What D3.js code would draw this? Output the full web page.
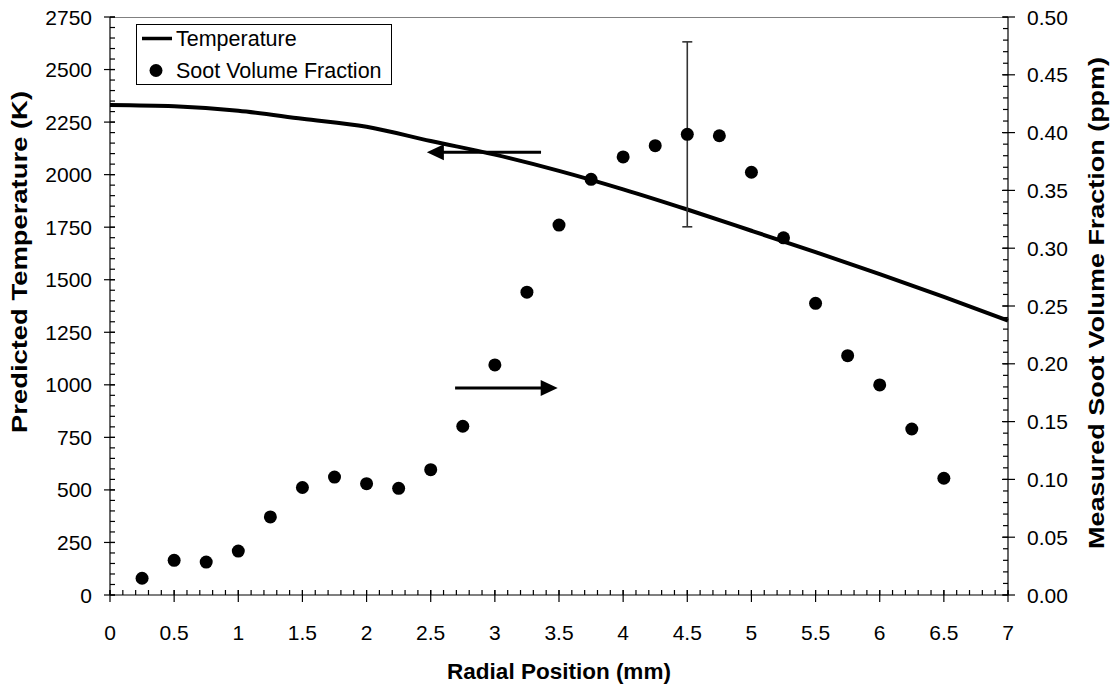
<!DOCTYPE html>
<html>
<head>
<meta charset="utf-8">
<script src="https://cdn.jsdelivr.net/npm/d3@7"></script>
<style>
  body { margin: 0; background: #fff; }
  svg { display: block; font-family: "Liberation Sans", Arial, sans-serif; }
</style>
</head>
<body>
<svg id="chart" width="1116" height="689"></svg>
<script>
// measured soot volume fraction (ppm) vs radial position (mm)
const sootX = [0.25, 0.5, 0.75, 1, 1.25, 1.5, 1.75, 2, 2.25, 2.5, 2.75, 3, 3.25,
  3.5, 3.75, 4, 4.25, 4.5, 4.75, 5, 5.25, 5.5, 5.75, 6, 6.25, 6.5];
const sootY = [0.0145, 0.030, 0.0285, 0.038, 0.0675, 0.093, 0.102, 0.0963, 0.0923,
  0.1084, 0.146, 0.199, 0.262, 0.320, 0.3596, 0.379, 0.3887, 0.3985, 0.3973,
  0.3657, 0.309, 0.2523, 0.207, 0.1817, 0.1436, 0.101];

// one error bar
const errX = [4.5];
const errY = [0.3985];
const errHalf = [0.08];

// predicted temperature (K)
const tempX = [0, 0.5, 1, 1.5, 2, 2.5, 3, 3.5, 4, 4.5, 5, 5.5, 6, 6.5, 7];
const tempK = [2331, 2325, 2304, 2266, 2228, 2160, 2095, 2018, 1930, 1834, 1733, 1631, 1527, 1418, 1306];

// ticks
const xTicks = d3.range(0, 7.01, 0.5);
const leftTicks = d3.range(0, 2751, 250);
const rightTicks = d3.range(0, 0.501, 0.05);

// arrow annotations (data units)
const arrowLeft = { from: 3.36, to: 2.47, y: 2106 };   // left axis units
const arrowRight = { from: 2.69, to: 3.49, y: 0.179 }; // right axis units

const plotL = 110, plotR = 1008, plotT = 17, plotB = 595;

const svg = d3.select('#chart');

const x = d3.scaleLinear().domain([0, 7]).range([plotL, plotR]);
const yL = d3.scaleLinear().domain([0, 2750]).range([plotB, plotT]);
const yR = d3.scaleLinear().domain([0, 0.5]).range([plotB, plotT]);

// top border
svg.append('line')
  .attr('x1', plotL).attr('x2', plotR).attr('y1', plotT + 0.5).attr('y2', plotT + 0.5)
  .attr('stroke', '#808080').attr('stroke-width', 1);

const axes = svg.append('g').attr('stroke', '#000').attr('stroke-width', 1.2);

// x axis
axes.append('line').attr('x1', plotL).attr('x2', plotR).attr('y1', plotB).attr('y2', plotB);
axes.selectAll('.xminor').data(d3.range(0, 70.5, 1).map(d => d / 10)).join('line')
  .attr('x1', d => x(d)).attr('x2', d => x(d)).attr('y1', plotB - 5).attr('y2', plotB);
axes.selectAll('.xmajor').data(xTicks).join('line')
  .attr('x1', d => x(d)).attr('x2', d => x(d)).attr('y1', plotB - 5).attr('y2', plotB + 7);

// left axis
axes.append('line').attr('x1', plotL).attr('x2', plotL).attr('y1', plotT).attr('y2', plotB);
axes.selectAll('.lminor').data(d3.range(0, 2751, 50)).join('line')
  .attr('x1', plotL).attr('x2', plotL + 5).attr('y1', d => yL(d)).attr('y2', d => yL(d));
axes.selectAll('.lmajor').data(leftTicks).join('line')
  .attr('x1', plotL - 6).attr('x2', plotL + 5).attr('y1', d => yL(d)).attr('y2', d => yL(d));

// right axis
axes.append('line').attr('x1', plotR).attr('x2', plotR).attr('y1', plotT).attr('y2', plotB);
axes.selectAll('.rminor').data(d3.range(0, 51, 1).map(d => d / 100)).join('line')
  .attr('x1', plotR - 5).attr('x2', plotR).attr('y1', d => yR(d)).attr('y2', d => yR(d));
axes.selectAll('.rmajor').data(rightTicks).join('line')
  .attr('x1', plotR - 6).attr('x2', plotR + 7).attr('y1', d => yR(d)).attr('y2', d => yR(d));

// tick labels
const labels = svg.append('g').attr('font-size', 21).attr('fill', '#000');
labels.selectAll('.xl').data(xTicks).join('text')
  .attr('x', d => x(d)).attr('y', 640).attr('text-anchor', 'middle')
  .text(d => d3.format('~g')(d));
labels.selectAll('.ll').data(leftTicks).join('text')
  .attr('x', plotL - 18).attr('y', d => yL(d) + 7.5).attr('text-anchor', 'end')
  .text(d => d);
labels.selectAll('.rl').data(rightTicks).join('text')
  .attr('x', plotR + 19).attr('y', d => yR(d) + 7.5).attr('text-anchor', 'start')
  .text(d => d3.format('.2f')(d));

// axis titles (the vertical ones are stretched along their length in the original)
const titles = svg.append('g').attr('font-weight', 'bold').attr('text-anchor', 'middle');
titles.append('text').attr('x', (plotL + plotR) / 2).attr('y', 679).attr('font-size', 22.5)
  .text('Radial Position (mm)');
titles.append('text').attr('transform', `translate(27,262) rotate(-90)`).attr('font-size', 22)
  .attr('textLength', 342).attr('lengthAdjust', 'spacingAndGlyphs')
  .text('Predicted Temperature (K)');
titles.append('text').attr('transform', `translate(1104,303) rotate(-90)`).attr('font-size', 22)
  .attr('textLength', 492).attr('lengthAdjust', 'spacingAndGlyphs')
  .text('Measured Soot Volume Fraction (ppm)');

// temperature curve
const line = d3.line().x((d, i) => x(tempX[i])).y(d => yL(d)).curve(d3.curveMonotoneX);
svg.append('path').attr('d', line(tempK))
  .attr('fill', 'none').attr('stroke', '#000').attr('stroke-width', 4);

// error bar
const eb = svg.append('g').attr('stroke', '#333').attr('stroke-width', 1.6);
errX.forEach((ex, i) => {
  const cx = x(ex), y0 = yR(errY[i] - errHalf[i]), y1 = yR(errY[i] + errHalf[i]);
  eb.append('line').attr('x1', cx).attr('x2', cx).attr('y1', y0).attr('y2', y1);
  eb.append('line').attr('x1', cx - 5).attr('x2', cx + 5).attr('y1', y0).attr('y2', y0);
  eb.append('line').attr('x1', cx - 5).attr('x2', cx + 5).attr('y1', y1).attr('y2', y1);
});

// soot points
svg.append('g').selectAll('circle').data(sootY).join('circle')
  .attr('cx', (d, i) => x(sootX[i])).attr('cy', d => yR(d)).attr('r', 6.5).attr('fill', '#000');

// arrows
function arrow(a, yScale) {
  const x0 = x(a.from), x1 = x(a.to), yy = yScale(a.y);
  const dir = Math.sign(x1 - x0), head = 17, half = 8;
  svg.append('line').attr('x1', x0).attr('x2', x1 - dir * head + dir).attr('y1', yy).attr('y2', yy)
    .attr('stroke', '#000').attr('stroke-width', 3);
  svg.append('path')
    .attr('d', `M${x1},${yy}L${x1 - dir * head},${yy - half}L${x1 - dir * head},${yy + half}Z`)
    .attr('fill', '#000');
}
arrow(arrowLeft, yL);
arrow(arrowRight, yR);

// legend
const lg = svg.append('g');
lg.append('rect').attr('x', 136.5).attr('y', 24.5).attr('width', 255).attr('height', 60)
  .attr('fill', '#fff').attr('stroke', '#000').attr('stroke-width', 1);
lg.append('line').attr('x1', 142).attr('x2', 172).attr('y1', 38.5).attr('y2', 38.5)
  .attr('stroke', '#000').attr('stroke-width', 3.5);
lg.append('circle').attr('cx', 156).attr('cy', 70.5).attr('r', 6.5).attr('fill', '#000');
lg.append('text').attr('x', 176).attr('y', 46).attr('font-size', 21.5).text('Temperature');
lg.append('text').attr('x', 176).attr('y', 78).attr('font-size', 21.5).text('Soot Volume Fraction');
</script>
</body>
</html>
